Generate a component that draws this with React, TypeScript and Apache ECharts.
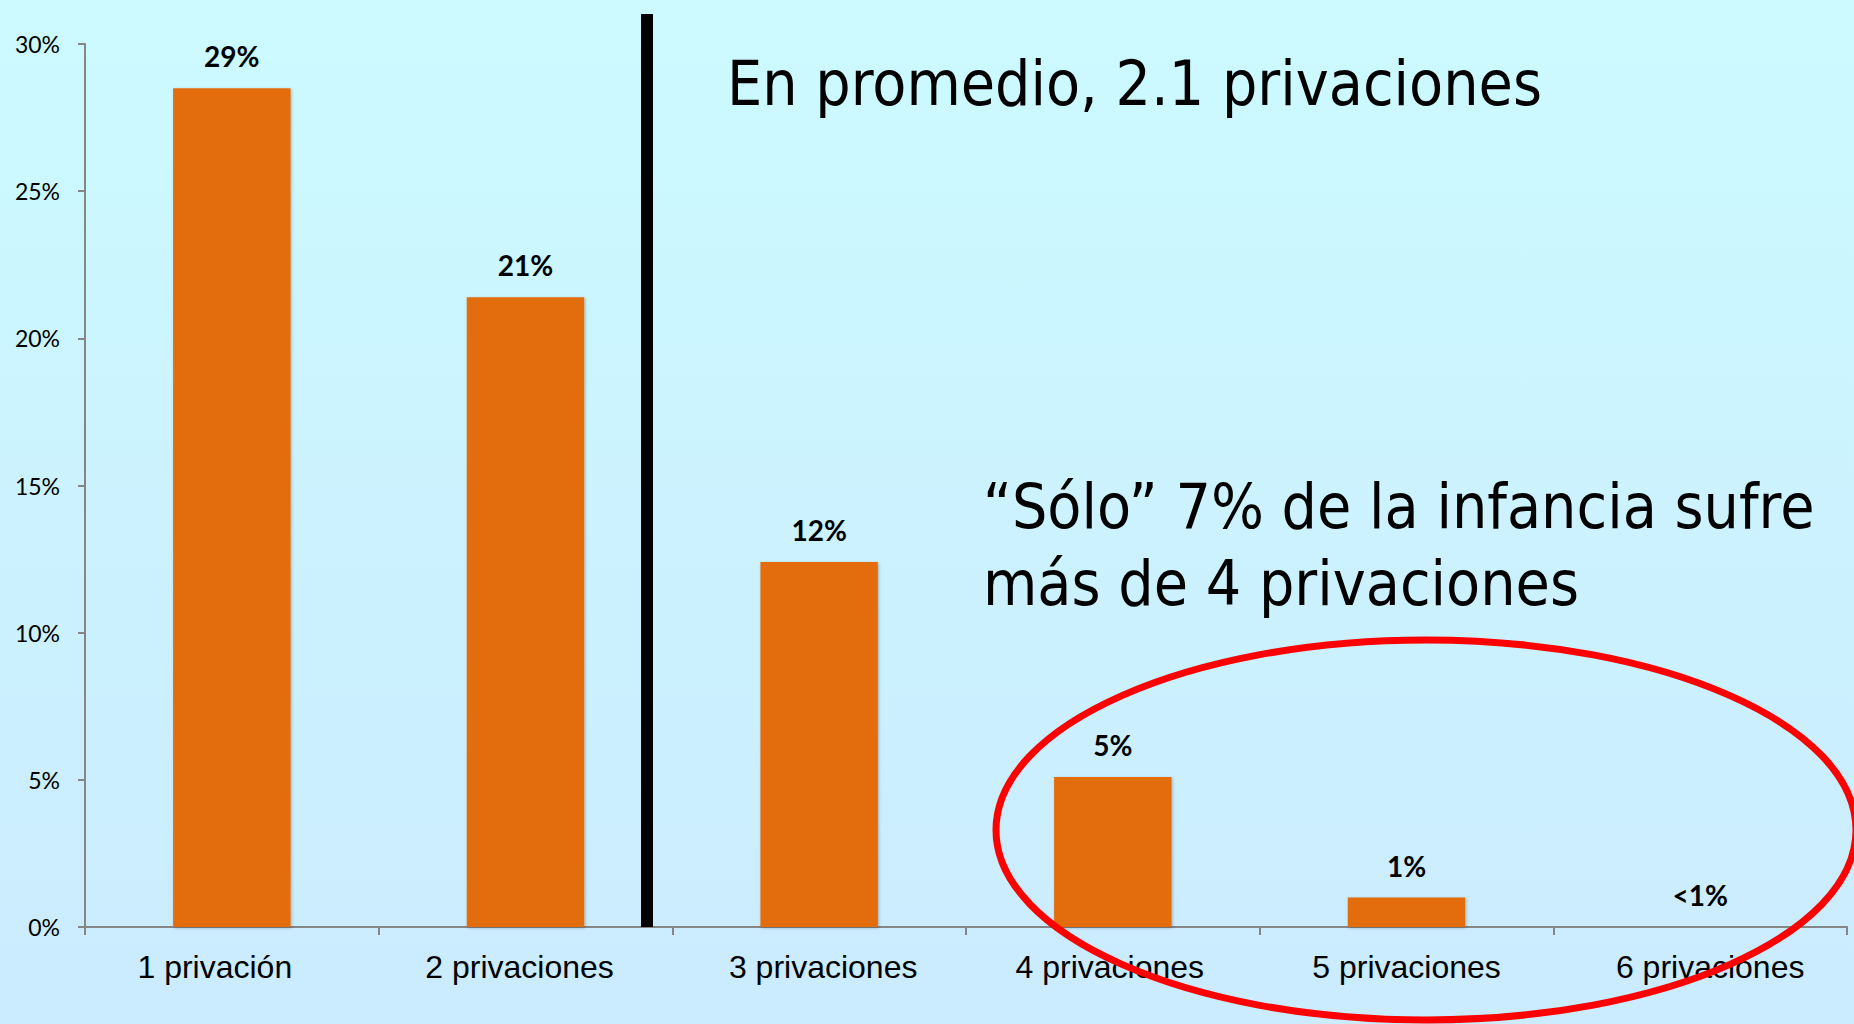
import React, { useEffect, useRef } from "react";
import * as echarts from "echarts";

const categories = [
  "1 privación",
  "2 privaciones",
  "3 privaciones",
  "4 privaciones",
  "5 privaciones",
  "6 privaciones",
];
const shares = [28.5, 21.4, 12.4, 5.1, 1.0, 0];
const shareLabels = ["29%", "21%", "12%", "5%", "1%", "<1%"];
const yMin = 0;
const yMax = 30;
const yStep = 5;

const noteTop = "En promedio, 2.1 privaciones";
const noteBottom1 = "\u201CSólo\u201D 7% de la infancia sufre";
const noteBottom2 = "más de 4 privaciones";

const bigFont = "'DejaVu Sans Condensed', 'DejaVu Sans', Verdana, sans-serif";
// small horizontal nudges of the category labels, as laid out in the original slide
const labelShift = [-17, -6, 4, -3, 0, 10];

export default function App() {
  const ref = useRef<HTMLDivElement>(null);

  useEffect(() => {
    if (!ref.current) return;
    const chart = echarts.init(ref.current, undefined, { renderer: "svg" });
    const rich: Record<string, any> = {};
    labelShift.forEach((s, i) => {
      rich["c" + i] = {
        color: "#000",
        fontFamily: "'Liberation Sans', Arial, sans-serif",
        fontSize: 32,
        padding: s < 0 ? [0, -2 * s, 0, 0] : [0, 0, 0, 2 * s],
      };
    });
    chart.setOption({
      animation: false,
      backgroundColor: "transparent",
      grid: { left: 85, right: 7, top: 44, bottom: 97, containLabel: false },
      xAxis: {
        type: "category",
        data: categories,
        axisLine: { show: true, lineStyle: { color: "#868686", width: 2 } },
        axisTick: { show: true, length: 8, lineStyle: { color: "#868686", width: 2 } },
        axisLabel: {
          color: "#000",
          fontFamily: "'Liberation Sans', Arial, sans-serif",
          fontSize: 32,
          margin: 24,
          interval: 0,
          formatter: (v: string, i: number) => `{c${i}|${v}}`,
          rich,
        },
      },
      yAxis: {
        type: "value",
        min: yMin,
        max: yMax,
        interval: yStep,
        splitLine: { show: false },
        axisLine: { show: true, lineStyle: { color: "#868686", width: 2 } },
        axisTick: { show: true, length: 7, lineStyle: { color: "#868686", width: 2 } },
        axisLabel: {
          color: "#000",
          fontFamily: "Lato, 'Open Sans', sans-serif",
          fontSize: 23,
          margin: 25,
          formatter: (v: number) => `${v}%`,
        },
      },
      series: [
        {
          type: "bar",
          data: shares,
          barWidth: "40%",
          itemStyle: {
            color: "#E36C0B",
            shadowColor: "rgba(0,0,0,0.25)",
            shadowBlur: 3,
            shadowOffsetX: 1,
            shadowOffsetY: 1,
          },
          label: {
            show: true,
            position: "top",
            distance: 18,
            color: "#000",
            fontFamily: "Lato, 'Open Sans', sans-serif",
            fontWeight: "bold",
            fontSize: 28,
            formatter: (p: any) => shareLabels[p.dataIndex],
          },
        },
      ],
      graphic: [
        {
          type: "rect",
          z: 100,
          shape: { x: 641, y: 14, width: 12, height: 913 },
          style: { fill: "#000" },
        },
        {
          type: "text",
          z: 100,
          x: 727,
          y: 83,
          style: {
            text: noteTop,
            fill: "#000",
            fontFamily: bigFont,
            fontSize: 62,
            align: "left",
            verticalAlign: "middle",
          },
        },
        {
          type: "text",
          z: 100,
          x: 983,
          y: 506,
          style: {
            text: noteBottom1,
            fill: "#000",
            fontFamily: bigFont,
            fontSize: 62,
            align: "left",
            verticalAlign: "middle",
          },
        },
        {
          type: "text",
          z: 100,
          x: 983,
          y: 583,
          style: {
            text: noteBottom2,
            fill: "#000",
            fontFamily: bigFont,
            fontSize: 62,
            align: "left",
            verticalAlign: "middle",
          },
        },
        {
          type: "ellipse",
          z: 110,
          shape: { cx: 1426, cy: 830, rx: 430, ry: 190 },
          style: { fill: "none", stroke: "#FF0000", lineWidth: 7 },
        },
      ],
    });
    return () => chart.dispose();
  }, []);

  return (
    <div
      style={{
        position: "fixed",
        left: 0,
        top: 0,
        width: 1854,
        height: 1024,
        background: "linear-gradient(to bottom, #CCFAFF 0%, #CBEBFE 100%)",
      }}
    >
      <div ref={ref} style={{ width: 1854, height: 1024 }} />
    </div>
  );
}
